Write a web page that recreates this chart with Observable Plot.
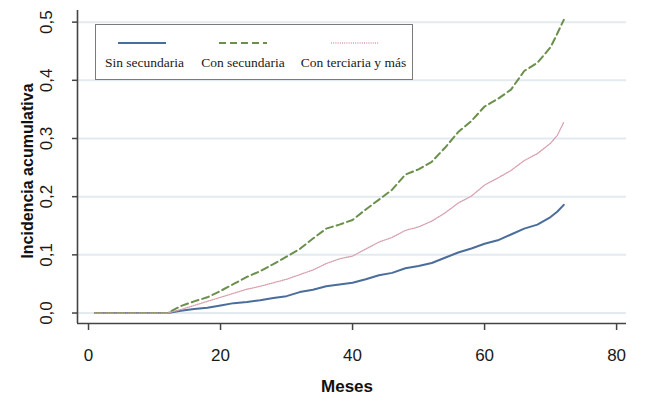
<!DOCTYPE html>
<html>
<head>
<meta charset="utf-8">
<script src="https://cdn.jsdelivr.net/npm/d3@7"></script>
<script src="https://cdn.jsdelivr.net/npm/@observablehq/plot@0.6"></script>
<style>
  html, body { margin: 0; padding: 0; background: #fff; }
  #wrap { position: relative; width: 650px; height: 396px; }
  #legend { position: absolute; left: 95px; top: 24px; width: 318px; height: 56px; box-sizing: border-box;
            border: 1px solid #7a7a7a; background: #fff; }
  .lg-line { position: absolute; top: 9px; width: 48px; height: 10px; }
  .lg-text { position: absolute; top: 30px; font-family: "Liberation Serif", "Times New Roman", serif; font-size: 13.5px;
             color: #1a1a1a; white-space: nowrap; transform: translateX(-50%); }
</style>
</head>
<body>
<div id="wrap"></div>
<script>
// ---- data ----
const months = [1, 12, 14, 16, 18, 20, 22, 24, 26, 28, 30, 32, 34, 36, 38, 40, 42, 44, 46, 48, 50, 52, 54, 56, 58, 60, 62, 64, 66, 68, 70, 71, 72];
const sinSecundaria = [0, 0, 0.004, 0.007, 0.009, 0.013, 0.017, 0.019, 0.022, 0.026, 0.029, 0.036, 0.040, 0.046, 0.049, 0.052, 0.058, 0.065, 0.069, 0.077, 0.081, 0.086, 0.095, 0.104, 0.111, 0.119, 0.125, 0.135, 0.145, 0.152, 0.165, 0.174, 0.186];
const conSecundaria = [0, 0, 0.012, 0.020, 0.027, 0.038, 0.050, 0.062, 0.072, 0.084, 0.097, 0.110, 0.128, 0.145, 0.152, 0.160, 0.178, 0.195, 0.212, 0.238, 0.247, 0.260, 0.284, 0.311, 0.330, 0.355, 0.368, 0.384, 0.416, 0.430, 0.457, 0.480, 0.504];
const conTerciaria = [0, 0, 0.006, 0.013, 0.020, 0.027, 0.034, 0.041, 0.046, 0.052, 0.058, 0.066, 0.074, 0.085, 0.093, 0.098, 0.110, 0.122, 0.130, 0.142, 0.148, 0.158, 0.172, 0.189, 0.201, 0.220, 0.232, 0.245, 0.262, 0.274, 0.292, 0.305, 0.328];
const seriesNames = ["Sin secundaria", "Con secundaria", "Con terciaria y más"];
const xTicks = [0, 20, 40, 60, 80];
const yTicks = [0, 0.1, 0.2, 0.3, 0.4, 0.5];
const yTickLabels = ["0,0", "0,1", "0,2", "0,3", "0,4", "0,5"];
const xLabel = "Meses";
const yLabel = "Incidencia acumulativa";

// ---- styles ----
const styles = [
  {stroke: "#4a6d9c", strokeWidth: 2, dash: null},
  {stroke: "#6b8f4c", strokeWidth: 2, dash: "7,4"},
  {stroke: "#d79fac", strokeWidth: 1.3, dash: "1,1.2"}
];
const seriesValues = [sinSecundaria, conSecundaria, conTerciaria];
const rows = seriesValues.map((vals, k) => months.map((m, i) => ({m, v: vals[i], s: seriesNames[k]})));
const xDomain = [-1.67, 81.5];
const yDomain = [-0.018, 0.52];
const font = "'Liberation Sans', Arial, sans-serif";

const chart = Plot.plot({
  width: 650,
  height: 396,
  marginLeft: 77,
  marginRight: 24,
  marginTop: 10,
  marginBottom: 73,
  style: {fontFamily: font, background: "#fff", overflow: "visible"},
  x: {domain: xDomain},
  y: {domain: yDomain},
  marks: [
    Plot.gridY(yTicks, {stroke: "#e3eaf0", strokeOpacity: 1, strokeWidth: 2}),
    ...rows.map((data, k) => Plot.line(data, {
      x: "m", y: "v", stroke: styles[k].stroke, strokeWidth: styles[k].strokeWidth,
      strokeDasharray: styles[k].dash, curve: "linear"
    })),
    Plot.ruleX([xDomain[0]], {stroke: "#444", strokeWidth: 1.6}),
    Plot.ruleY([yDomain[0]], {stroke: "#444", strokeWidth: 1.6}),
    Plot.axisX({ticks: xTicks, tickSize: 7, tickPadding: 18, fontSize: 17, stroke: "#444", strokeWidth: 1.5,
                fill: "#1a1a1a", label: null, tickFormat: d => String(d)}),
    Plot.axisY({ticks: yTicks, tickSize: 5, tickFormat: () => "", stroke: "#444", strokeWidth: 1.5, label: null}),
    Plot.text(yTicks, {y: d => d, text: (d, i) => yTickLabels[i], frameAnchor: "left", dx: -31, rotate: -90,
                       textAnchor: "middle", lineAnchor: "middle", fontSize: 17, fill: "#1a1a1a"}),
    Plot.text([yLabel], {text: d => d, frameAnchor: "left", dx: -50, dy: 4, rotate: -90, textAnchor: "middle",
                         lineAnchor: "middle", fontSize: 16, fontWeight: "bold", fill: "#111"}),
    Plot.text([xLabel], {text: d => d, frameAnchor: "bottom", dx: -5, dy: 63, textAnchor: "middle",
                         lineAnchor: "middle", fontSize: 17, fontWeight: "bold", fill: "#111"})
  ]
});

const wrap = document.getElementById("wrap");
wrap.appendChild(chart);

// legend inside the plot
const legend = document.createElement("div");
legend.id = "legend";
const lineCenters = [46, 147, 259];
const textCenters = [48.5, 147, 257.5];
seriesNames.forEach((name, k) => {
  const st = styles[k];
  const ln = document.createElement("div");
  ln.className = "lg-line";
  ln.style.left = (lineCenters[k] - 24) + "px";
  ln.innerHTML = `<svg width="48" height="10"><line x1="0" x2="48" y1="5" y2="5" stroke="${st.stroke}" stroke-width="${st.strokeWidth}" ${st.dash ? `stroke-dasharray="${st.dash}"` : ""}/></svg>`;
  legend.appendChild(ln);
  const tx = document.createElement("div");
  tx.className = "lg-text";
  tx.style.left = textCenters[k] + "px";
  tx.textContent = name;
  legend.appendChild(tx);
});
wrap.appendChild(legend);
</script>
</body>
</html>
